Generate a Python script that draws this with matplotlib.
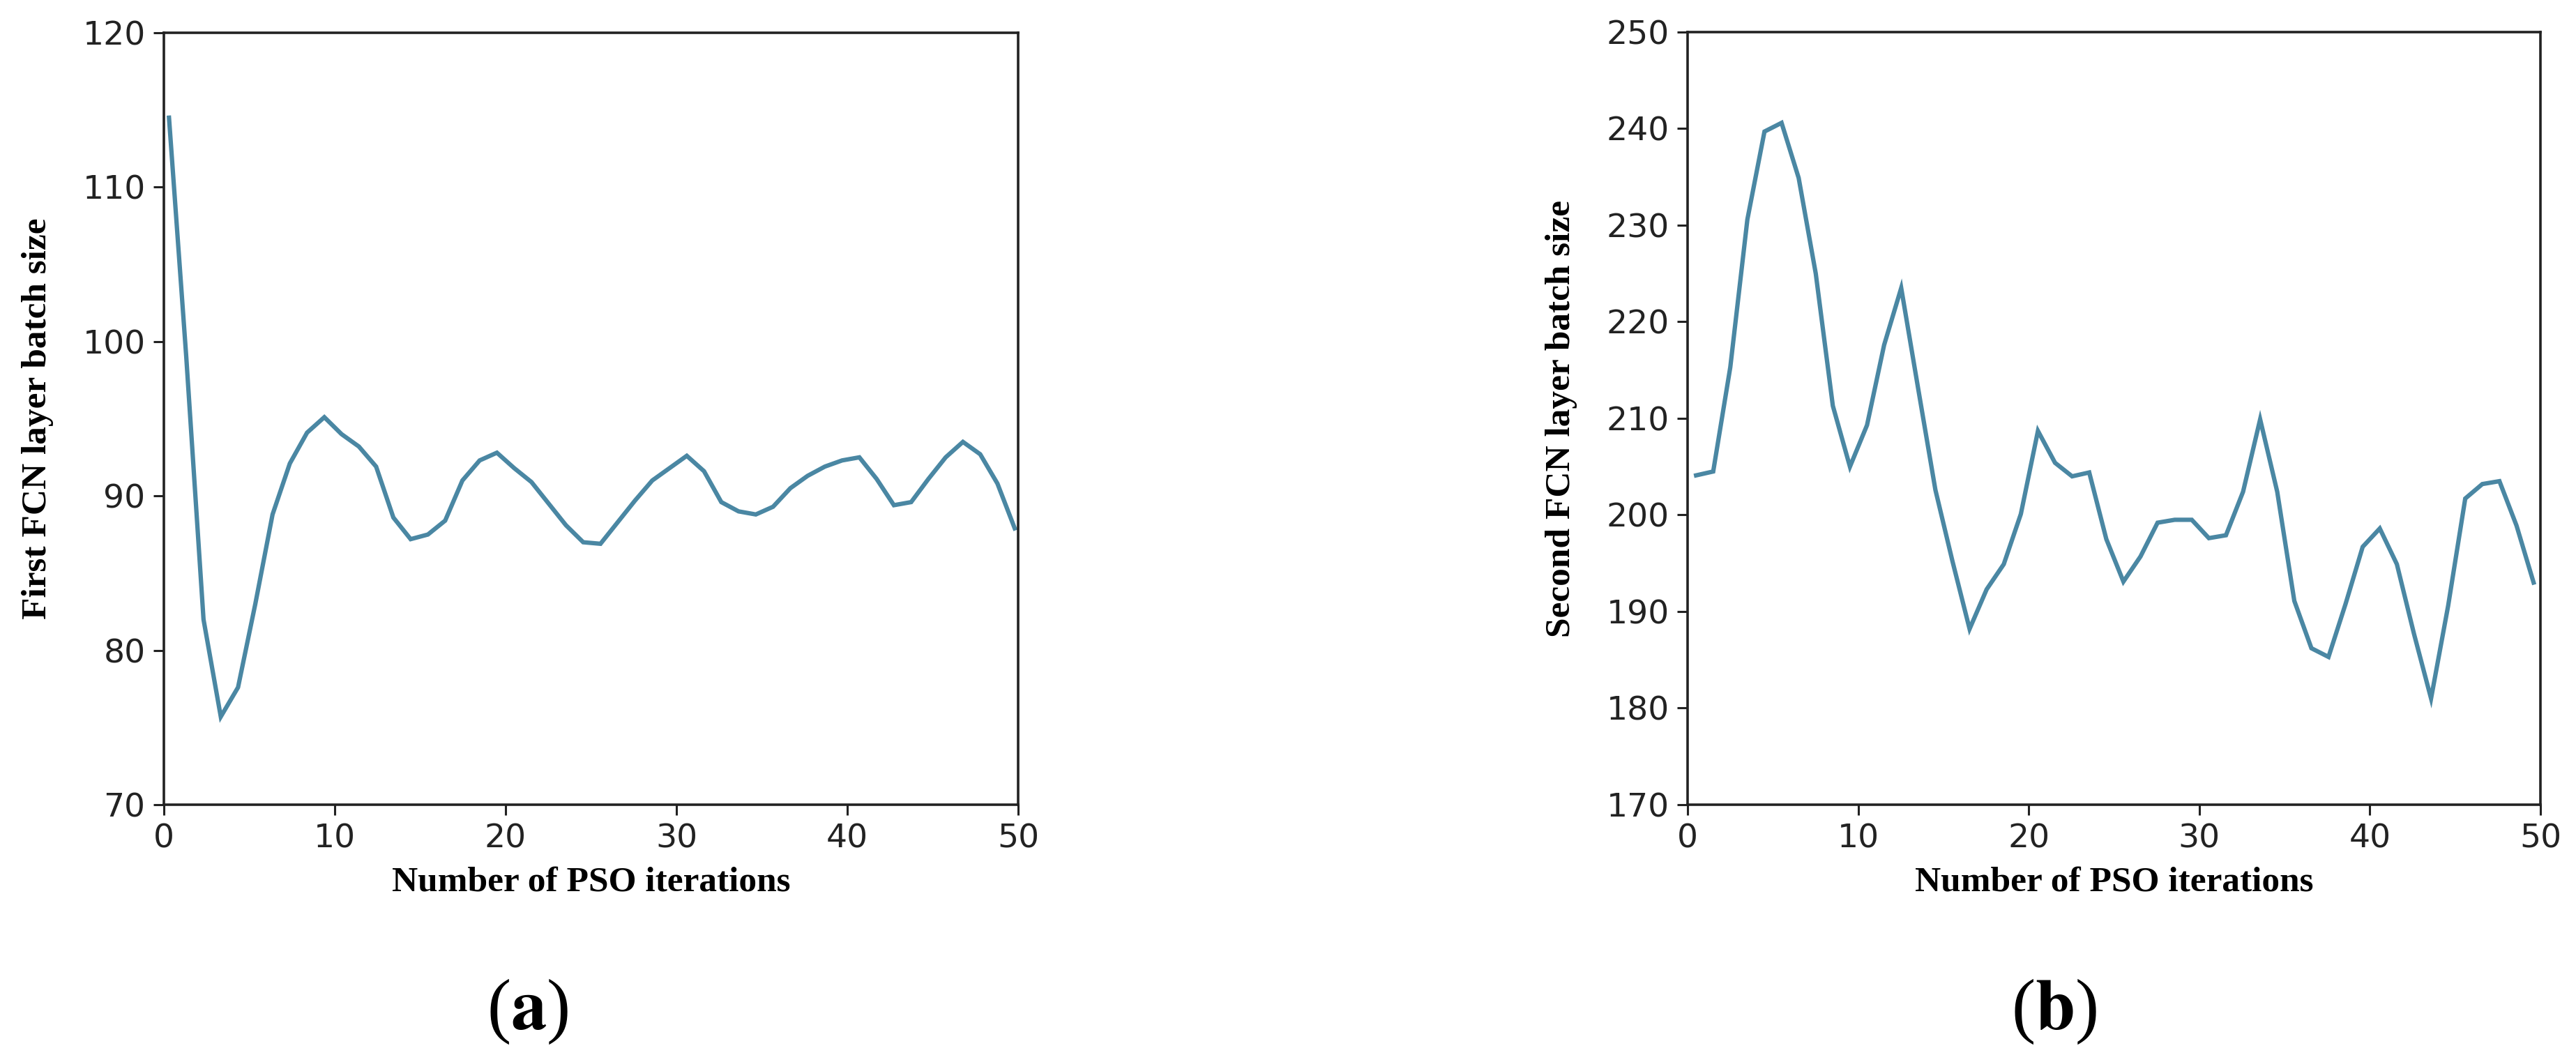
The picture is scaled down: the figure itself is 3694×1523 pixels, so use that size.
import numpy as np
import matplotlib
matplotlib.use("Agg")
import matplotlib.pyplot as plt

# ---- data ----
first_fcn = [114.5, 99.0, 82.0, 75.7, 77.6, 83.0, 88.8, 92.1, 94.1, 95.1,
             94.0, 93.2, 91.9, 88.6, 87.2, 87.5, 88.4, 91.0, 92.3, 92.8,
             91.8, 90.9, 89.5, 88.1, 87.0, 86.9, 88.3, 89.7, 91.0, 91.8,
             92.6, 91.6, 89.6, 89.0, 88.8, 89.3, 90.5, 91.3, 91.9, 92.3,
             92.5, 91.1, 89.4, 89.6, 91.1, 92.5, 93.5, 92.7, 90.8, 87.9]
second_fcn = [204.1, 204.5, 215.3, 230.6, 239.7, 240.6, 234.9, 225.0, 211.3, 205.0,
              209.3, 217.6, 223.5, 213.0, 202.6, 195.2, 188.2, 192.3, 194.9, 200.1,
              208.7, 205.4, 204.0, 204.4, 197.5, 193.1, 195.7, 199.2, 199.5, 199.5,
              197.6, 197.9, 202.4, 209.9, 202.4, 191.1, 186.2, 185.3, 190.8, 196.7,
              198.6, 194.9, 187.7, 181.0, 190.6, 201.7, 203.2, 203.5, 198.9, 193.0]
iters_a = np.linspace(0.3, 49.8, len(first_fcn))
iters_b = np.linspace(0.5, 49.6, len(second_fcn))

x_ticks = [0, 10, 20, 30, 40, 50]
y_ticks_a = [70, 80, 90, 100, 110, 120]
y_ticks_b = [170, 180, 190, 200, 210, 220, 230, 240, 250]
x_label = "Number of PSO iterations"
y_label_a = "First FCN layer batch size"
y_label_b = "Second FCN layer batch size"
panel_labels = ["a", "b"]

plt.rcParams["mathtext.fontset"] = "stix"

LINE_COLOR = "#4a87a3"
W, H = 3694, 1523
DPI = 100
fig = plt.figure(figsize=(W / DPI, H / DPI), dpi=DPI)
fig.patch.set_facecolor("white")

serif = ["Liberation Serif", "DejaVu Serif"]

def make_axes(left_px, right_px, top_px, bottom_px):
    return fig.add_axes([left_px / W, 1 - bottom_px / H,
                         (right_px - left_px) / W, (bottom_px - top_px) / H])

ax_a = make_axes(235, 1460, 47, 1154)
ax_b = make_axes(2420, 3643, 46, 1154)

configs = [
    (ax_a, iters_a, first_fcn, y_ticks_a, y_label_a),
    (ax_b, iters_b, second_fcn, y_ticks_b, y_label_b),
]
for ax, xs, ys, yt, yl in configs:
    ax.plot(xs, ys, color=LINE_COLOR, linewidth=4.5, solid_joinstyle="miter")
    ax.set_xlim(0, 50)
    ax.set_ylim(yt[0], yt[-1])
    ax.set_xticks(x_ticks)
    ax.set_yticks(yt)
    ax.tick_params(axis="both", labelsize=34, length=11, width=2.2,
                   pad=8, colors="#222222", labelcolor="#222222")
    for sp in ax.spines.values():
        sp.set_linewidth(2.6)
        sp.set_color("#222222")
    ax.set_xlabel(x_label, fontfamily=serif, fontweight="bold", fontsize=37,
                  labelpad=12)
    ax.set_ylabel(yl, fontfamily=serif, fontweight="bold", fontsize=37,
                  labelpad=30)

# panel labels "(a)" "(b)"
for xc, lab in zip([757, 2945], panel_labels):
    fig.text(xc / W, 1 - 1451 / H, "(" + r"$\mathbf{" + lab + "}$" + ")",
             ha="center", va="center", fontsize=74, fontfamily=serif)

fig.savefig("out.png", dpi=DPI, facecolor="white")
